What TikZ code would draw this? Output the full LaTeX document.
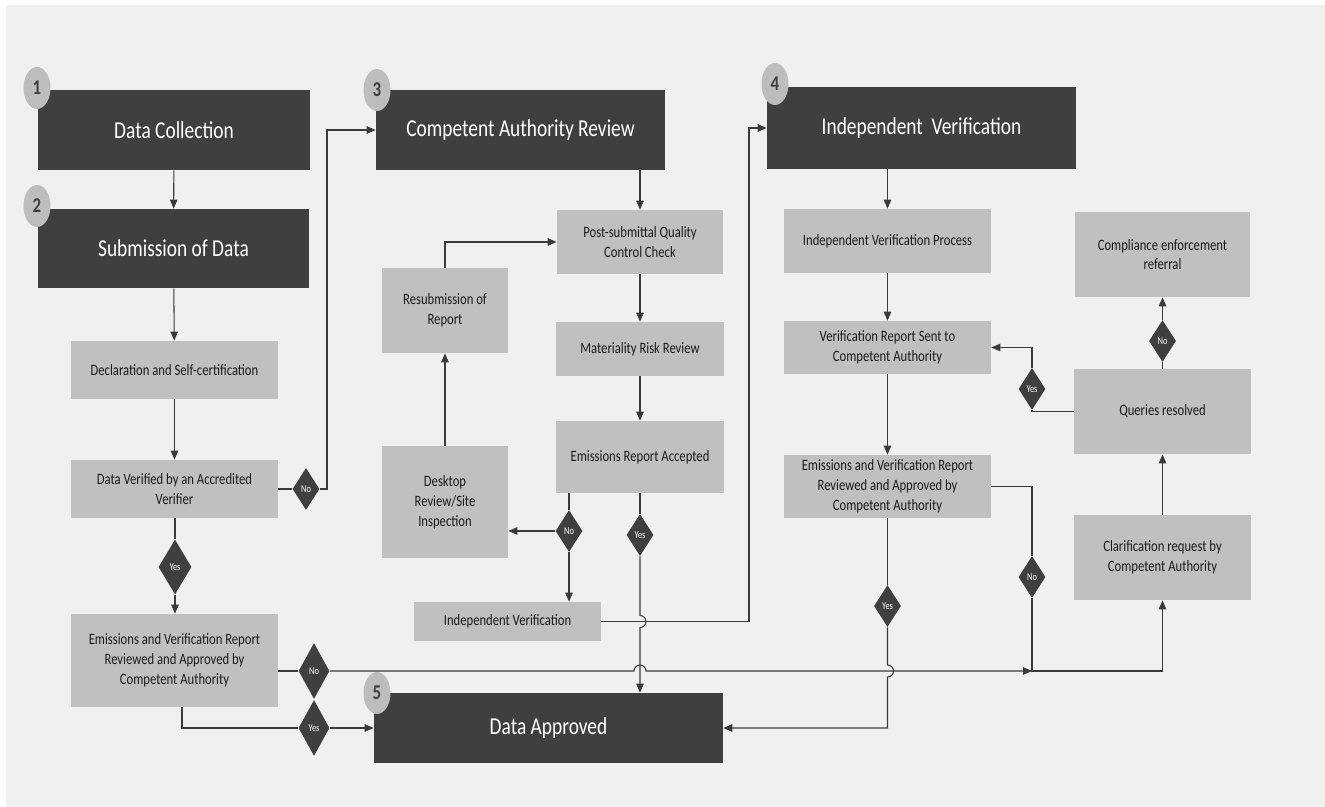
\documentclass[tikz,border=0pt]{standalone}
\usepackage{fontspec}
\setmainfont{Carlito}[FakeStretch=0.8]
\usepackage{tikz}
\usetikzlibrary{arrows.meta,shapes.geometric}
\definecolor{bggray}{HTML}{F0F0F0}
\definecolor{darkbox}{HTML}{3F3F3F}
\definecolor{lightbox}{HTML}{C0C0C0}
\definecolor{badge}{HTML}{BDBDBD}
\definecolor{linegray}{HTML}{3A3A3A}
\definecolor{txt}{HTML}{1A1A1A}

\begin{document}
\begin{tikzpicture}[
  x=0.02cm,y=-0.02cm,
  stage/.style={rectangle,fill=darkbox,text=white,inner sep=0pt,
                font=\fontsize{13.8}{16}\selectfont},
  task/.style={rectangle,fill=lightbox,text=txt,inner sep=0pt,align=center,
               font=\fontsize{9}{11.3}\selectfont},
  badgenum/.style={ellipse,fill=badge,text=darkbox,inner sep=0pt,
                   minimum width=0.54cm,minimum height=0.84cm,
                   font=\fontsize{12}{14}\selectfont\bfseries},
  choice/.style={diamond,fill=darkbox,text=white,inner sep=0pt,
                 minimum width=0.54cm,minimum height=0.84cm,
                 font=\fontsize{6}{7}\selectfont},
  bigchoice/.style={choice,minimum width=0.62cm,minimum height=1.12cm},
  link/.style={draw=linegray,line width=0.6pt},
  arr/.style={link,-{Triangle[length=0.18cm,width=0.15cm]}}
]
  \useasboundingbox (0,0) rectangle (1325,807);
  \fill[white] (0,0) rectangle (1325,807);
  \fill[bggray] (6,5) rectangle (1325,807);

  % stages
  \node[stage,minimum width=5.44cm,minimum height=1.6cm] (coll) at (174,130) {Data Collection};
  \node[stage,minimum width=5.42cm,minimum height=1.58cm] (subm) at (173.5,248.5) {Submission of Data};
  \node[stage,minimum width=5.78cm,minimum height=1.6cm] (car) at (520.5,130) {Competent Authority Review};
  \node[stage,minimum width=6.18cm,minimum height=1.64cm] (indv) at (921.5,128) {Independent~ Verification};
  \node[stage,minimum width=6.98cm,minimum height=1.4cm] (appr) at (548.5,728) {Data Approved};

  \node[badgenum] (n1) at (37,88) {1};
  \node[badgenum] (n2) at (37,206) {2};
  \node[badgenum] (n3) at (377,90) {3};
  \node[badgenum] (n4) at (775,84) {4};
  \node[badgenum] (n5) at (377,693) {5};

  % tasks
  \node[task,minimum width=4.14cm,minimum height=1.16cm] (decl) at (174.5,370) {Declaration and Self-certification};
  \node[task,minimum width=4.14cm,minimum height=1.16cm] (dver) at (174.5,489) {Data Verified by an Accredited\\Verifier};
  \node[task,minimum width=4.14cm,minimum height=1.86cm] (evrl) at (174.5,660.5) {Emissions and Verification Report\\Reviewed and Approved by\\Competent Authority};
  \node[task,minimum width=3.32cm,minimum height=1.28cm] (post) at (640,242) {Post-submittal Quality\\Control Check};
  \node[task,minimum width=2.52cm,minimum height=1.7cm] (resub) at (445,310.5) {Resubmission of\\Report};
  \node[task,minimum width=3.36cm,minimum height=1.08cm] (mat) at (640,349) {Materiality Risk Review};
  \node[task,minimum width=3.36cm,minimum height=1.44cm] (era) at (640,457) {Emissions Report Accepted};
  \node[task,minimum width=2.52cm,minimum height=2.24cm] (desk) at (445,502) {Desktop\\Review/Site\\Inspection};
  \node[task,minimum width=3.74cm,minimum height=0.78cm] (ivs) at (507.5,621.5) {Independent Verification};
  \node[task,minimum width=4.14cm,minimum height=1.28cm] (ivp) at (887.5,241) {Independent Verification Process};
  \node[task,minimum width=4.14cm,minimum height=1.06cm] (vrs) at (887.5,347.5) {Verification Report Sent to\\Competent Authority};
  \node[task,minimum width=4.14cm,minimum height=1.26cm] (evrr) at (887.5,486.5) {Emissions and Verification Report\\Reviewed and Approved by\\Competent Authority};
  \node[task,minimum width=3.5cm,minimum height=1.7cm] (comp) at (1162.5,254.5) {Compliance enforcement\\referral};
  \node[task,minimum width=3.54cm,minimum height=1.7cm] (quer) at (1162.5,411.5) {Queries resolved};
  \node[task,minimum width=3.54cm,minimum height=1.7cm] (clar) at (1162.5,557.5) {Clarification request by\\Competent Authority};

  % decisions
  \node[choice] (no1) at (306,489) {No};
  \node[choice,minimum width=0.66cm,minimum height=1.1cm] (yes1) at (175,567) {Yes};
  \node[bigchoice] (no2) at (314,671) {No};
  \node[bigchoice] (yes2) at (314,728) {Yes};
  \node[choice] (no3) at (569,531) {No};
  \node[choice] (yes3) at (640,535) {Yes};
  \node[choice] (yes4) at (1032,389) {Yes};
  \node[choice] (no4) at (1162.5,341) {No};
  \node[choice] (yes5) at (887.5,606) {Yes};
  \node[choice] (no5) at (1032,577) {No};

  \coordinate (k1) at (327,489);
  \coordinate (k2) at (749,621.5);
  \coordinate (k3) at (1032,671);

  % column 1
  \draw[arr] (coll) -- (subm);
  \draw[arr] (subm) -- (decl);
  \draw[arr] (decl) -- (dver);
  \draw[link] (dver.south -| yes1) -- (yes1.north);
  \draw[arr] (yes1.south) -- (evrl.north -| yes1);
  \draw[link] (dver.east) -- (no1.west);
  \draw[arr] (no1.east) -- (k1) |- (car.west);
  \draw[link] (evrl.east |- no2) -- (no2.west);
  \draw[arr] (no2.east) -- (634,671) arc[start angle=180,end angle=0,radius=0.12cm] -- (k3);
  \draw[link] ([xshift=0.15cm]evrl.south) |- (yes2.west);
  \draw[arr] (yes2.east) -- (appr.west);

  % column 2
  \draw[arr] (post.north |- car.south) -- (post.north);
  \draw[arr] (post) -- (mat);
  \draw[arr] (mat) -- (era);
  \draw[arr] (resub.north) |- (post.west);
  \draw[arr] (desk) -- (resub);
  \draw[link] (era.south -| no3) -- (no3.north);
  \draw[arr] (no3.west) -- (desk.east |- no3);
  \draw[arr] (no3.south) -- (ivs.north -| no3);
  \draw[link] (era.south -| yes3) -- (yes3.north);
  \draw[arr] (yes3.south) -- (640,615.5) arc[start angle=90,end angle=-90,radius=0.12cm] -- (yes3 |- appr.north);
  \draw[arr] (ivs.east) -- (k2) |- (indv.west);

  % column 3
  \draw[arr] (ivp.north |- indv.south) -- (ivp.north);
  \draw[arr] (ivp) -- (vrs);
  \draw[arr] (vrs) -- (evrr);
  \draw[link] (evrr.south) -- (yes5.north);
  \draw[arr] (yes5.south) -- (887.5,665) arc[start angle=90,end angle=-90,radius=0.12cm] |- (appr.east);
  \draw[link] (evrr.east) -| (no5.north);
  \draw[arr] (no5.south) -- (k3) -| (clar.south);
  \draw[arr] (clar) -- (quer);
  \draw[link] (quer.west) -| (yes4.south);
  \draw[arr] (yes4.north) |- (vrs.east);
  \draw[link] (quer.north) -- (no4.south);
  \draw[arr] (no4.north) -- (comp.south);
\end{tikzpicture}
\end{document}
